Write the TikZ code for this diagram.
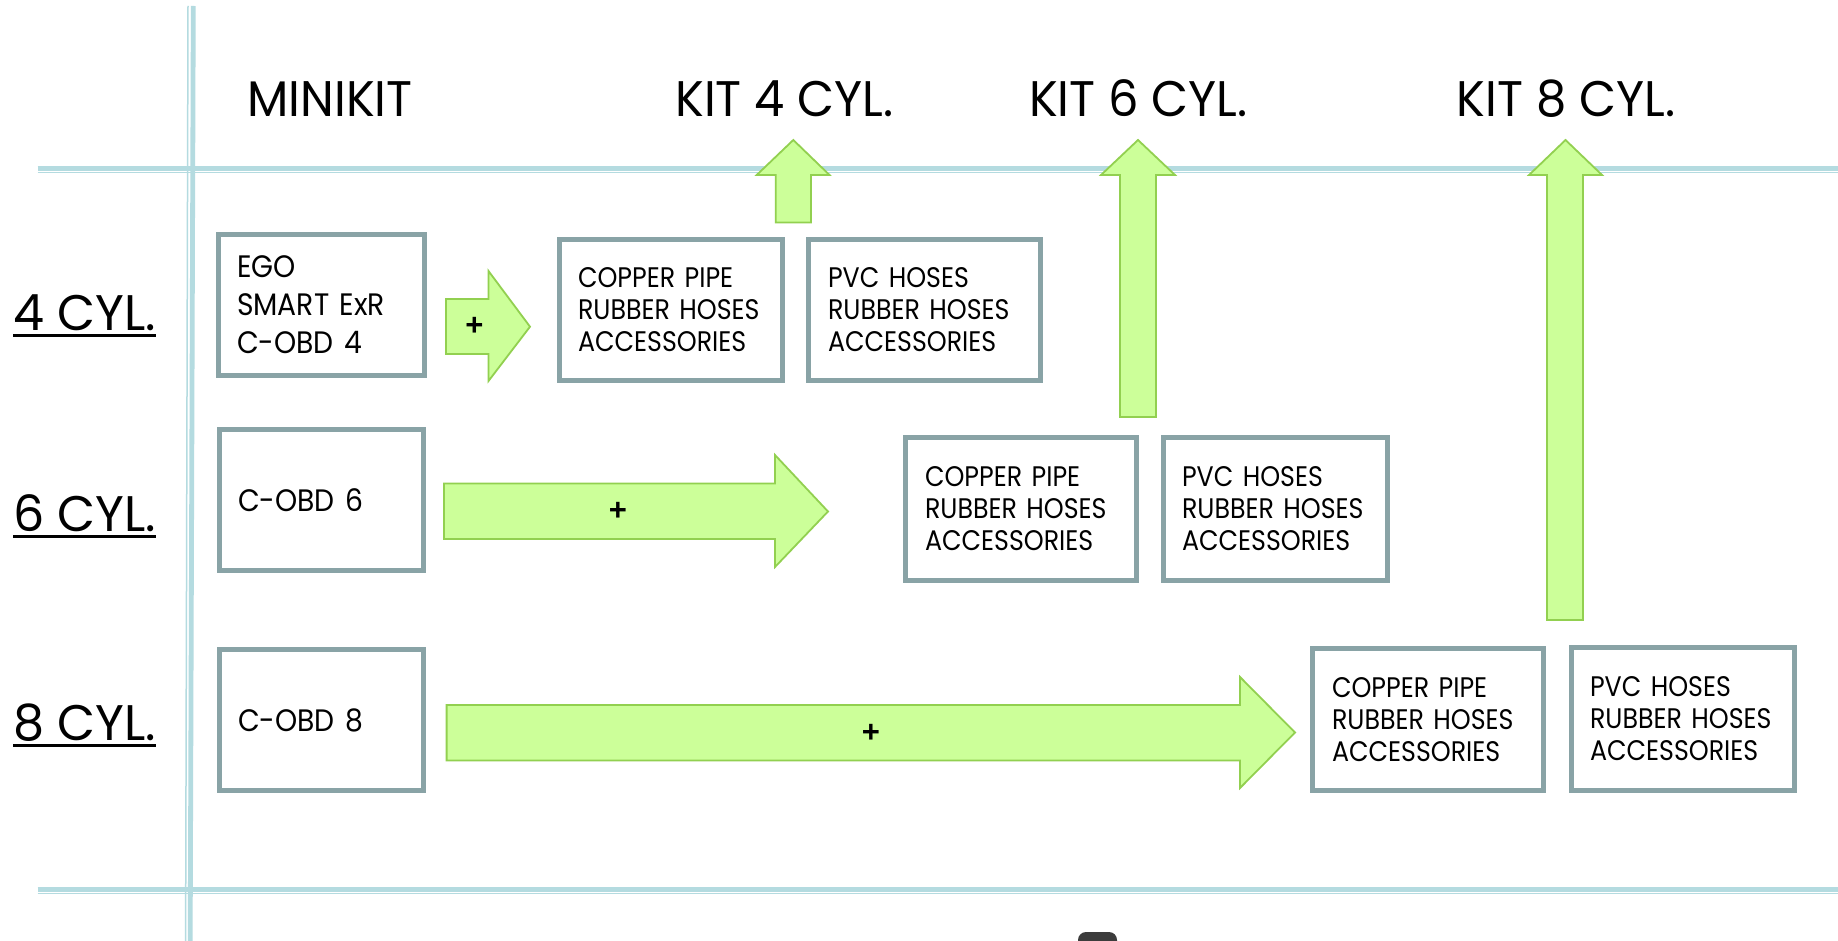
\documentclass[tikz,border=0pt]{standalone}
\usepackage{fontspec}
\setmainfont{Poppins}[FakeStretch=0.895]
\newfontfamily\bigfont{Poppins}[FakeStretch=0.91]
\newfontfamily\headfont{Poppins}[FakeStretch=0.96]
\newfontfamily\labelfont{Poppins}[FakeStretch=0.985]
\newfontfamily\plusfont{Liberation Sans}
\definecolor{gridblue}{RGB}{180,219,224}
\definecolor{boxgray}{RGB}{137,163,166}
\definecolor{arrowfill}{RGB}{204,255,153}
\definecolor{arrowline}{RGB}{146,208,80}
\definecolor{blob}{RGB}{60,60,60}
\tikzset{
  gridthick/.style={draw=gridblue, line width=4.8pt},
  gridthin/.style={draw=gridblue, line width=1.5pt},
  blockarrow/.style={fill=arrowfill, draw=arrowline, line width=1.8pt, line join=miter},
  box/.style={draw=boxgray, line width=5pt, fill=white, inner ysep=0pt, align=left, anchor=center},
  bigtext/.style={font=\bigfont\fontsize{31}{38}\selectfont},
  smalltext/.style={font=\fontsize{28.3}{32}\selectfont},
  header/.style={font=\headfont\fontsize{50}{60}\selectfont, inner sep=0pt, anchor=base},
  rowlabel/.style={font=\labelfont\fontsize{50}{60}\selectfont, inner sep=0pt, anchor=base west},
  uline/.style={draw=black, line width=3pt},
  plussign/.style={font=\plusfont\bfseries\fontsize{31}{31}\selectfont, inner sep=0pt}
}
\begin{document}
\begin{tikzpicture}[x=1pt,y=-1pt]
\useasboundingbox (0,0) rectangle (1838,941);
\fill[white] (0,0) rectangle (1838,941);

% grid lines
\draw[gridthin] (188,6) -- (185.6,941);
\draw[gridthick] (193.3,6) -- (190.2,941);
\draw[gridthick] (37.5,168.2) -- (1838,168.2);
\draw[gridthin] (37.5,172.7) -- (1838,172.7);
\draw[gridthick] (37.5,889.2) -- (1838,889.2);
\draw[gridthin] (37.5,893.5) -- (1838,893.5);

% headers
\node[header] (hmini) at (330,117) {MINIKIT};
\node[header] (hk4) at (784.5,117) {KIT 4 CYL.};
\node[header] (hk6) at (1138.5,117) {KIT 6 CYL.};
\node[header] (hk8) at (1566,117) {KIT 8 CYL.};

% row labels
\node[rowlabel] (l4) at (13,330) {4 CYL.};
\node[rowlabel] (l6) at (13,531) {6 CYL.};
\node[rowlabel] (l8) at (13,740) {8 CYL.};
\draw[uline] ([yshift=-5pt]l4.base west) -- ([yshift=-5pt]l4.base east);
\draw[uline] ([yshift=-5pt]l6.base west) -- ([yshift=-5pt]l6.base east);
\draw[uline] ([yshift=-5pt]l8.base west) -- ([yshift=-5pt]l8.base east);

% block arrows
\draw[blockarrow] (446,299) -- (488.5,299) -- (488.5,271) -- (530,326.7) -- (488.5,381) -- (488.5,354) -- (446,354) -- cycle;
\draw[blockarrow] (444,483.5) -- (775,483.5) -- (775,455) -- (828,511.5) -- (775,567) -- (775,539) -- (444,539) -- cycle;
\draw[blockarrow] (446.6,705) -- (1240,705) -- (1240,677) -- (1295,732.5) -- (1240,788) -- (1240,760.5) -- (446.6,760.5) -- cycle;
\draw[blockarrow] (775.7,222.5) -- (775.7,175) -- (756.7,175) -- (793.3,140) -- (829.5,175) -- (811,175) -- (811,222.5) -- cycle;
\draw[blockarrow] (1120,417) -- (1120,175) -- (1101,175) -- (1138,140) -- (1175,175) -- (1156,175) -- (1156,417) -- cycle;
\draw[blockarrow] (1547,620) -- (1547,175) -- (1529,175) -- (1565.5,140) -- (1602,175) -- (1583,175) -- (1583,620) -- cycle;

\node[plussign] (p4) at (474.3,326.7) {+};
\node[plussign] (p6) at (618,511) {+};
\node[plussign] (p8) at (871,733) {+};

% boxes
\node[box, bigtext, minimum width=206pt, minimum height=141pt, inner xsep=18.5pt, text width=169pt] (ego) at (321.5,305) {\mbox{EGO}\\\mbox{SMART ExR}\\\mbox{C-OBD 4}};
\node[box, smalltext, minimum width=223pt, minimum height=141pt, inner xsep=18.5pt, text width=186pt] (cp1) at (671,310) {\mbox{COPPER PIPE}\\\mbox{RUBBER HOSES}\\\mbox{ACCESSORIES}};
\node[box, smalltext, minimum width=232pt, minimum height=141pt, inner xsep=19.5pt, text width=193pt] (pvc1) at (924.5,310) {\mbox{PVC HOSES}\\\mbox{RUBBER HOSES}\\\mbox{ACCESSORIES}};

\node[box, bigtext, minimum width=204pt, minimum height=141pt, inner xsep=18.5pt, text width=167pt] (cobd6) at (321.5,500) {\mbox{C-OBD 6}};
\node[box, smalltext, minimum width=231pt, minimum height=142.5pt, inner xsep=19.5pt, text width=192pt] (cp2) at (1021,509) {\mbox{COPPER PIPE}\\\mbox{RUBBER HOSES}\\\mbox{ACCESSORIES}};
\node[box, smalltext, minimum width=224pt, minimum height=143pt, inner xsep=18.5pt, text width=187pt] (pvc2) at (1275.5,509) {\mbox{PVC HOSES}\\\mbox{RUBBER HOSES}\\\mbox{ACCESSORIES}};

\node[box, bigtext, minimum width=204pt, minimum height=141pt, inner xsep=18.5pt, text width=167pt] (cobd8) at (321.5,720) {\mbox{C-OBD 8}};
\node[box, smalltext, minimum width=231pt, minimum height=142pt, inner xsep=19.5pt, text width=192pt] (cp3) at (1428,719.5) {\mbox{COPPER PIPE}\\\mbox{RUBBER HOSES}\\\mbox{ACCESSORIES}};
\node[box, smalltext, minimum width=223pt, minimum height=143pt, inner xsep=18.5pt, text width=186pt] (pvc3) at (1683,719) {\mbox{PVC HOSES}\\\mbox{RUBBER HOSES}\\\mbox{ACCESSORIES}};

% partial picture at the bottom edge
\fill[blob, rounded corners=8pt] (1078,932) rectangle (1117,962);
\end{tikzpicture}
\end{document}
